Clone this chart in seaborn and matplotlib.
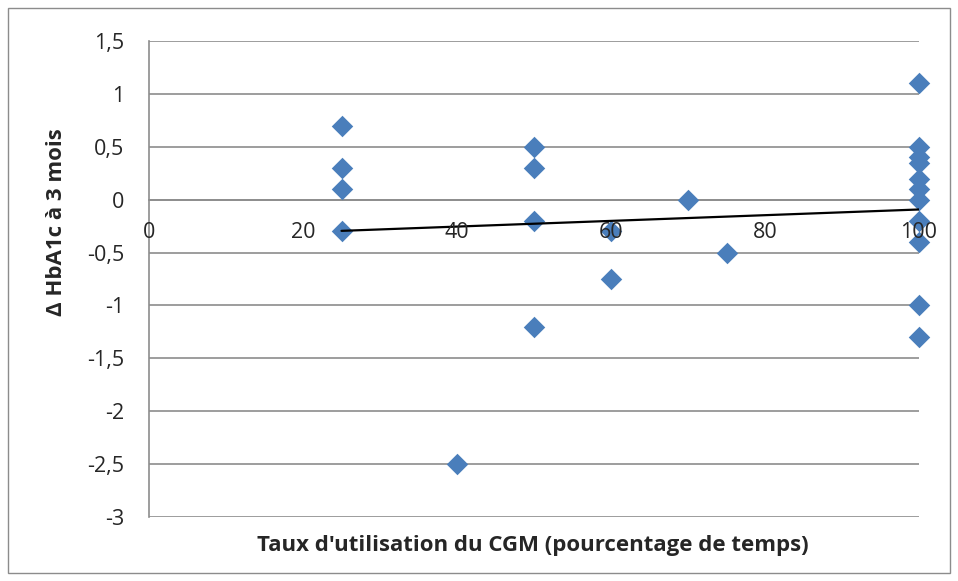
import numpy as np
import pandas as pd
import matplotlib
matplotlib.use("Agg")
import matplotlib.pyplot as plt
import seaborn as sns

# CGM usage (% of time) vs change in HbA1c at 3 months
usage = [25, 25, 25, 25,
         40,
         50, 50, 50, 50,
         60, 60,
         70,
         75,
         100, 100, 100, 100, 100, 100, 100, 100, 100, 100, 100]
delta_hba1c = [0.7, 0.3, 0.1, -0.3,
               -2.5,
               0.5, 0.3, -0.2, -1.2,
               -0.3, -0.75,
               0.0,
               -0.5,
               1.1, 0.5, 0.4, 0.35, 0.2, 0.1, 0.0, -0.2, -0.4, -1.0, -1.3]

x_ticks = [0, 20, 40, 60, 80, 100]
y_ticks = [1.5, 1, 0.5, 0, -0.5, -1, -1.5, -2, -2.5, -3]
y_tick_labels = ["1,5", "1", "0,5", "0", "-0,5", "-1", "-1,5", "-2", "-2,5", "-3"]

df = pd.DataFrame({"usage": usage, "delta": delta_hba1c})

sns.set_style("white")
plt.rcParams["font.family"] = ["Open Sans", "DejaVu Sans"]

fig = plt.figure(figsize=(9.58, 5.81), dpi=100)
ax = fig.add_axes([149 / 958, 1 - 517 / 581, 770 / 958, 476 / 581])

# light gray frame around the whole chart
fig.patches.append(plt.Rectangle((8 / 958, 8 / 581), 942 / 958, 565 / 581,
                                 transform=fig.transFigure, fill=False,
                                 edgecolor="#8c8c8c", lw=1))

for yv in y_ticks:
    ax.axhline(yv, color="#8c8c8c", lw=1.2, zorder=0)

sns.scatterplot(data=df, x="usage", y="delta", marker="D", s=120,
                color="#4a7ebb", edgecolor="#4a7ebb", linewidth=0, ax=ax,
                zorder=3, clip_on=False)
sns.regplot(data=df, x="usage", y="delta", scatter=False, ci=None, truncate=True,
            color="black", line_kws={"lw": 1.6, "zorder": 4}, ax=ax)

ax.set_xlim(0, 100)
ax.set_ylim(-3, 1.5)
ax.set_xticks(x_ticks)
ax.set_yticks(y_ticks)
ax.set_yticklabels(y_tick_labels)

ax.spines["right"].set_visible(False)
ax.spines["top"].set_visible(False)
ax.spines["bottom"].set_position(("data", 0))
ax.spines["bottom"].set_color("#8c8c8c")
ax.spines["left"].set_color("#8c8c8c")
ax.spines["bottom"].set_linewidth(1.2)
ax.spines["left"].set_linewidth(1.2)
ax.spines["bottom"].set_zorder(0.5)
ax.tick_params(axis="both", direction="out", length=7, width=1.2, color="#8c8c8c",
               labelsize=15.5)
ax.tick_params(axis="x", pad=9)
ax.tick_params(axis="y", pad=11)
# tick labels sit on top of the markers, as in the original
ax.xaxis.set_zorder(5)

ax.set_xlabel("")
ax.set_ylabel("")
fig.text(57 / 958, 1 - 222 / 581, "Δ HbA1c à 3 mois", rotation=90,
         ha="center", va="center", fontsize=16, fontweight="bold")
fig.text(533 / 958, 1 - 545 / 581, "Taux d'utilisation du CGM (pourcentage de temps)",
         ha="center", va="center", fontsize=16, fontweight="bold")

fig.savefig("out.png", dpi=100)
